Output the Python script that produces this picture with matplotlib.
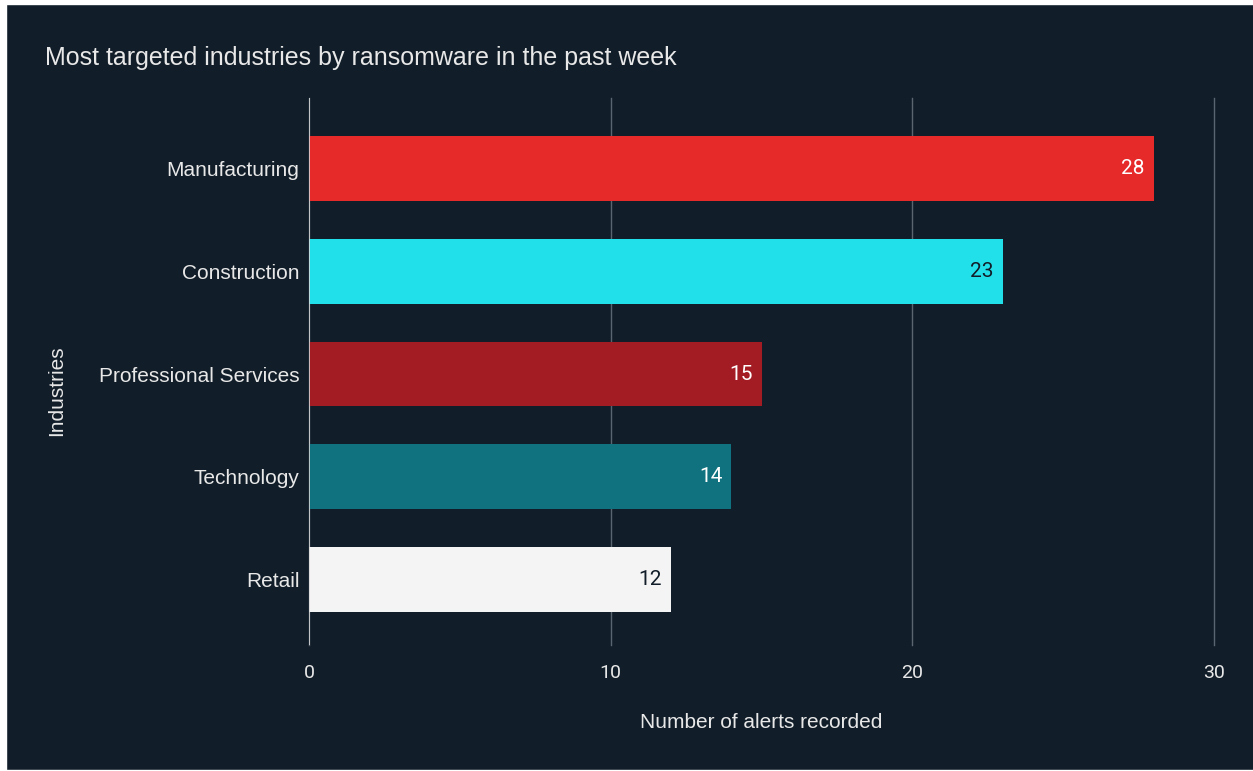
import matplotlib
matplotlib.use("Agg")
import matplotlib.pyplot as plt
from matplotlib.patches import Rectangle

industries = ["Manufacturing", "Construction", "Professional Services", "Technology", "Retail"]
alerts = [28, 23, 15, 14, 12]
bar_colors = ["#e62a2a", "#22e0ea", "#a31c24", "#10727e", "#f4f4f4"]
label_colors = ["#ffffff", "#111d28", "#ffffff", "#ffffff", "#111d28"]
x_ticks = [0, 10, 20, 30]

BG = "#111d28"
TEXT = "#e8e8e8"
SANS = ["Liberation Sans", "DejaVu Sans"]
NUM = ["Roboto", "DejaVu Sans"]

fig = plt.figure(figsize=(12.53, 7.71), dpi=100)
fig.patch.set_facecolor(BG)

# thin white frame seen on the left, top and bottom edges of the reference
fig.add_artist(Rectangle((0, 0), 6 / 1253, 1, transform=fig.transFigure, color="white", zorder=10))
fig.add_artist(Rectangle((0, 1 - 4 / 771), 1, 4 / 771, transform=fig.transFigure, color="white", zorder=10))
fig.add_artist(Rectangle((0, 0), 1, 1 / 771, transform=fig.transFigure, color="white", zorder=10))

ax = fig.add_axes([309 / 1253, 1 - 645 / 771, (1214 - 309) / 1253, (645 - 98) / 771])
ax.set_facecolor(BG)

ypos = list(range(len(industries)))
ax.barh(ypos, alerts, height=0.63, color=bar_colors, zorder=3)

for y, v, c in zip(ypos, alerts, label_colors):
    ax.text(v - 0.3, y, str(v), ha="right", va="center", color=c,
            fontsize=15, family=NUM, zorder=4)

ax.set_xlim(0, 30)
ax.set_ylim(4.64, -0.69)
ax.set_xticks(x_ticks)
ax.set_xticklabels([str(t) for t in x_ticks], family=NUM, fontsize=14, color=TEXT)
ax.set_yticks(ypos)
ax.set_yticklabels(industries, family=SANS, fontsize=15, color=TEXT)
ax.tick_params(axis="both", length=0)
ax.tick_params(axis="x", pad=14)
ax.tick_params(axis="y", pad=7)

ax.grid(True, axis="x", color="#5a6570", linewidth=1, zorder=0)
ax.grid(False, axis="y")
for gl in ax.get_xgridlines():
    gl.set_clip_on(False)
for s in ax.spines.values():
    s.set_visible(False)
ax.axvline(0, color="#d8d8d8", linewidth=1.2, zorder=5)

ax.set_xlabel("Number of alerts recorded", family=SANS, fontsize=15, color=TEXT)
ax.xaxis.set_label_coords(0.5, 1 - (722 - 98) / 547, transform=ax.transAxes)
ax.xaxis.label.set_va("center")
ax.set_ylabel("Industries", family=SANS, fontsize=15, color=TEXT)
ax.yaxis.set_label_coords((57 - 309) / 905, 1 - (391 - 98) / 547, transform=ax.transAxes)
ax.yaxis.label.set_va("center")

fig.text(45 / 1253, 1 - 58 / 771, "Most targeted industries by ransomware in the past week",
         family=SANS, fontsize=18, color=TEXT, ha="left", va="center")

fig.savefig("out.png", dpi=100, facecolor=BG)
plt.close(fig)
